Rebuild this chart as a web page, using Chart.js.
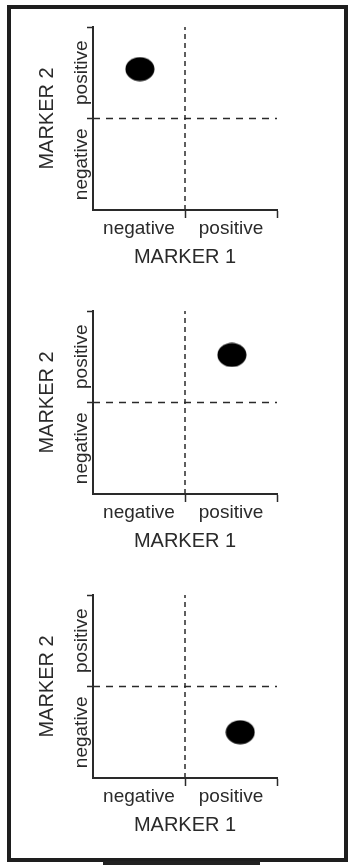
<!DOCTYPE html>
<html lang="en">
<head>
  <meta charset="UTF-8">
  <meta name="viewport" content="width=device-width, initial-scale=1.0">
  <title>Marker 1 / Marker 2 quadrants</title>
  <script src="https://cdn.jsdelivr.net/npm/chart.js"></script>
  <style>
    html, body { margin: 0; padding: 0; background: #fff; }
    #page { position: relative; width: 348px; height: 865px; overflow: hidden; }
    #frame { position: absolute; left: 7px; top: 5px; width: 333px; height: 849px; border: 4px solid #1e1e1e; }
    #bar { position: absolute; left: 103px; top: 861px; width: 157px; height: 4px; background: #222; }
    canvas.panel { position: absolute; left: 0; filter: blur(0.5px); }
  </style>
</head>
<body>
  <div id="page">
    <div id="frame"></div>
    <div id="bar"></div>
    <canvas class="panel" id="panel1" width="348" height="285" style="top:0px"></canvas>
    <canvas class="panel" id="panel2" width="348" height="285" style="top:284px"></canvas>
    <canvas class="panel" id="panel3" width="348" height="285" style="top:568px"></canvas>
  </div>

  <script>
    // axis titles and quadrant labels
    const titleX = 'MARKER 1';
    const titleY = 'MARKER 2';
    const halfLabels = ['negative', 'positive'];
    const halfCenters = [-0.5, 0.5];

    // axis range and quadrant split
    const axisMin = -1;
    const axisMax = 1;
    const split = 0;

    // one population per panel
    const dotX = [-0.49, 0.51, 0.60];
    const dotY = [0.54, 0.52, -0.50];

    const ink = '#2a2a2a';
    const family = '"Liberation Sans", Arial, sans-serif';

    const tickValues = [axisMin, halfCenters[0], split, halfCenters[1], axisMax];

    function tickLabel(value) {
      const i = halfCenters.indexOf(value);
      return i >= 0 ? halfLabels[i] : '';
    }

    // only the split and the far end get a tick mark
    function tickMark(ctx) {
      if (!ctx.tick) return 'transparent';
      return (ctx.tick.value === split || ctx.tick.value === axisMax) ? ink : 'transparent';
    }

    function setTicks(scale) {
      scale.ticks = tickValues.map(v => ({ value: v }));
    }

    // filled ellipse used as the point marker
    function ellipseMarker(w, h) {
      const c = document.createElement('canvas');
      c.width = w;
      c.height = h;
      const g = c.getContext('2d');
      g.fillStyle = '#000';
      g.beginPath();
      g.ellipse(w / 2, h / 2, w / 2 - 0.5, h / 2 - 0.5, 0, 0, Math.PI * 2);
      g.fill();
      return c;
    }
    const dotStyle = ellipseMarker(30, 25);

    function makePanel(id, i) {
      const ctx = document.getElementById(id).getContext('2d');
      return new Chart(ctx, {
        type: 'scatter',
        data: {
          datasets: [
            {
              type: 'line',
              data: [{ x: split, y: axisMin }, { x: split, y: axisMax }],
              borderColor: ink,
              borderWidth: 1.5,
              borderDash: [5, 4],
              pointRadius: 0
            },
            {
              type: 'line',
              data: [{ x: axisMin, y: split }, { x: axisMax, y: split }],
              borderColor: ink,
              borderWidth: 1.5,
              borderDash: [7, 6],
              pointRadius: 0
            },
            {
              data: [{ x: dotX[i], y: dotY[i] }],
              pointStyle: dotStyle,
              pointRadius: 15
            }
          ]
        },
        options: {
          responsive: false,
          animation: false,
          layout: { padding: { left: 33, right: 71, top: 27, bottom: 15 } },
          plugins: { legend: { display: false }, tooltip: { enabled: false } },
          scales: {
            x: {
              type: 'linear',
              min: axisMin,
              max: axisMax,
              afterBuildTicks: setTicks,
              afterFit: s => { s.height = 60; },
              ticks: {
                callback: tickLabel,
                autoSkip: false,
                minRotation: 0,
                maxRotation: 0,
                padding: -1,
                color: ink,
                font: { family: family, size: 19 }
              },
              grid: { drawOnChartArea: false, tickLength: 8, tickWidth: 1.5, tickColor: tickMark },
              border: { color: ink, width: 2 },
              title: { display: true, text: titleX, color: ink, padding: 1, font: { family: family, size: 20 } }
            },
            y: {
              type: 'linear',
              min: axisMin,
              max: axisMax,
              afterBuildTicks: setTicks,
              afterFit: s => { s.width = 60; },
              ticks: {
                callback: tickLabel,
                autoSkip: false,
                minRotation: 90,
                maxRotation: 90,
                crossAlign: 'center',
                padding: -31,
                color: ink,
                font: { family: family, size: 19 }
              },
              grid: { drawOnChartArea: false, tickLength: 6, tickWidth: 1.5, tickColor: tickMark },
              border: { color: ink, width: 2 },
              title: { display: true, text: titleY, color: ink, padding: 2, font: { family: family, size: 20 } }
            }
          }
        }
      });
    }

    makePanel('panel1', 0);
    makePanel('panel2', 1);
    makePanel('panel3', 2);
  </script>
</body>
</html>
